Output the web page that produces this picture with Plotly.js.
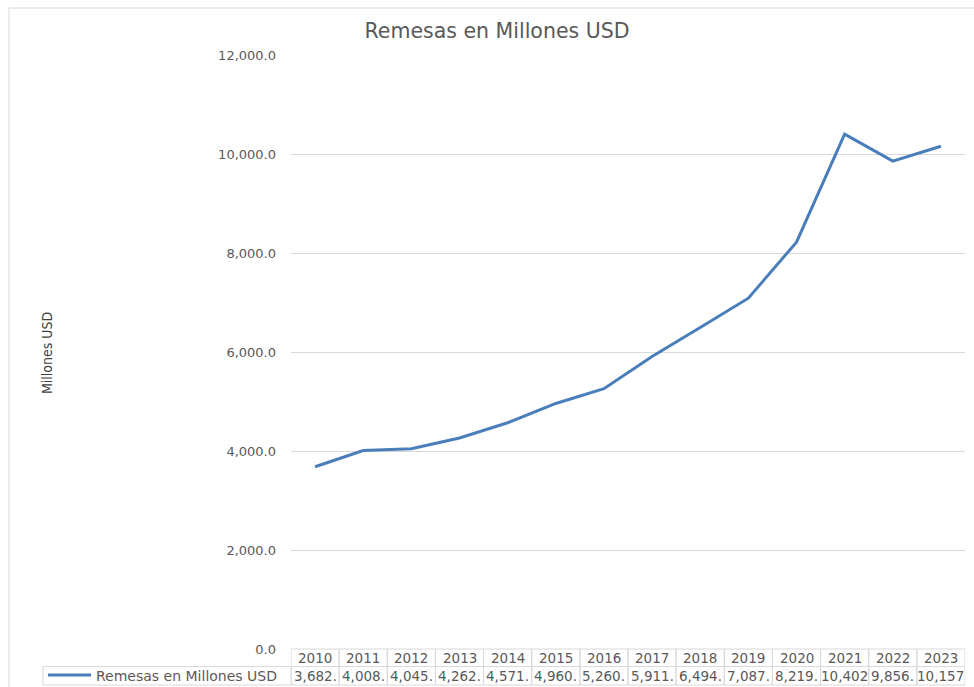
<!DOCTYPE html>
<html><head><meta charset="utf-8">
<script src="https://cdn.plot.ly/plotly-3.0.1.min.js"></script>
<style>html,body{margin:0;padding:0;background:#fff;}</style>
</head><body>
<div id="chart" style="width:974px;height:687px"></div>
<script>
const years = ['2010','2011','2012','2013','2014','2015','2016','2017','2018','2019','2020','2021','2022','2023'];
const remesas = [3682.4, 4008.3, 4045.2, 4262.1, 4571.3, 4960.2, 5260.1, 5911.2, 6494.3, 7087.1, 8219.4, 10402.3, 9856.4, 10157.2];
const seriesName = 'Remesas en Millones USD';
const yTitle = 'Millones USD';

const W = 974, H = 687;
const L = 291, R = 965, T = 55, B = 649;
const PW = R - L, PH = B - T;
const px2x = p => (p - L) / PW;
const px2y = p => (B - p) / PH;

const lineColor = '#4a7ebb';
const gridColor = '#d9d9d9';
const textColor = '#595959';
const fontFam = 'DejaVu Sans, Verdana, sans-serif';

const hdrTop = 649, hdrBot = 666.5, rowBot = 685;
const shapes = [];
const annotations = [];

// outer chart frame
shapes.push({type:'line', xref:'paper', yref:'paper', x0:px2x(9), x1:px2x(9), y0:px2y(8), y1:px2y(687), line:{color:gridColor, width:1}});
shapes.push({type:'line', xref:'paper', yref:'paper', x0:px2x(9), x1:px2x(974), y0:px2y(8), y1:px2y(8), line:{color:gridColor, width:1}});

// legend cell
shapes.push({type:'rect', xref:'paper', yref:'paper', x0:px2x(43), x1:px2x(L), y0:px2y(hdrBot), y1:px2y(rowBot), line:{color:gridColor, width:1}});
shapes.push({type:'line', xref:'paper', yref:'paper', x0:px2x(48), x1:px2x(91), y0:px2y(675), y1:px2y(675), line:{color:lineColor, width:3}});
annotations.push({xref:'paper', yref:'paper', x:px2x(94), y:px2y(675.5), xanchor:'left', yanchor:'middle', showarrow:false, text:seriesName, font:{family:fontFam, size:14, color:textColor}});

const fmt = v => v.toLocaleString('en-US', {minimumFractionDigits:1, maximumFractionDigits:1}).slice(0, 6);

years.forEach((yr, i) => {
  shapes.push({type:'rect', xref:'x', yref:'paper', x0:i-0.5, x1:i+0.5, y0:px2y(hdrTop), y1:px2y(hdrBot), line:{color:gridColor, width:1}});
  shapes.push({type:'rect', xref:'x', yref:'paper', x0:i-0.5, x1:i+0.5, y0:px2y(hdrBot), y1:px2y(rowBot), line:{color:gridColor, width:1}});
  annotations.push({xref:'x', yref:'paper', x:i, y:px2y(657.5), xanchor:'center', yanchor:'middle', showarrow:false, text:yr, font:{family:fontFam, size:13.5, color:textColor}});
  annotations.push({xref:'x', yref:'paper', x:i, y:px2y(675.5), xanchor:'center', yanchor:'middle', showarrow:false, text:fmt(remesas[i]), font:{family:fontFam, size:13.5, color:textColor}});
});

// y axis title
annotations.push({xref:'paper', yref:'paper', x:px2x(47), y:px2y(353), xanchor:'center', yanchor:'middle', textangle:-90, showarrow:false, text:yTitle, font:{family:'Liberation Sans Narrow, DejaVu Sans Condensed, Liberation Sans, sans-serif', size:14, color:'#404040'}});

const trace = {
  type:'scatter', mode:'lines', x:years, y:remesas, name:seriesName,
  line:{color:lineColor, width:3}, hoverinfo:'skip'
};

const layout = {
  width:W, height:H,
  margin:{l:L, r:W-R, t:T, b:H-B, pad:0},
  paper_bgcolor:'#fff', plot_bgcolor:'#fff',
  showlegend:false,
  title:{text:'Remesas en Millones USD', x:497/W, xref:'container', xanchor:'center', y:1-31/H, yref:'container', yanchor:'middle', font:{family:fontFam, size:20.5, color:textColor}},
  xaxis:{type:'category', range:[-0.5, 13.5], showticklabels:false, showgrid:false, zeroline:false, showline:false, ticks:''},
  yaxis:{range:[0,12000], dtick:2000, tick0:0, tickformat:',.1f', showgrid:true, gridcolor:gridColor, gridwidth:1, zeroline:false, showline:false, ticks:'', ticklabelstandoff:14, tickfont:{family:fontFam, size:13, color:textColor}},
  shapes:shapes,
  annotations:annotations
};

Plotly.newPlot('chart', [trace], layout, {staticPlot:true, displayModeBar:false});
</script>
</body></html>
